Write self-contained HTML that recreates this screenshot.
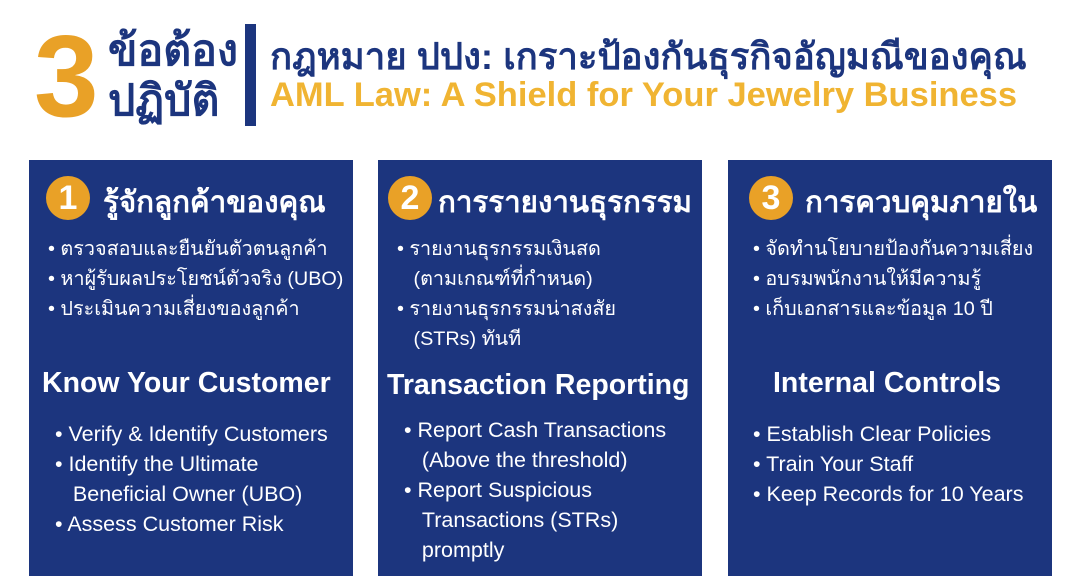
<!DOCTYPE html>
<html><head><meta charset="utf-8"><style>
body{margin:0;width:1080px;height:588px;background:#fff;position:relative;overflow:hidden;font-family:"Liberation Sans","DejaVu Sans","Noto Sans CJK SC",sans-serif}
.a{position:absolute;white-space:nowrap}
.p{position:absolute;top:160px;width:324px;height:416px;background:#1c357e}
.c{position:absolute;width:44px;height:44px;border-radius:50%;background:#e9a127;color:#fff;font-weight:bold;font-size:34px;text-align:center;line-height:44px}
.t{font-size:19.8px;color:#fff}
.h{font-size:29.5px;font-weight:bold;color:#fff}
.g{font-size:28.5px;font-weight:bold;color:#fff}
.e{font-size:21.5px;color:#fff}
</style></head><body>
<div class="a" style="left:34px;top:18px;font-size:116px;font-weight:bold;color:#e9a127;line-height:116px">3</div>
<div class="a" style="left:108px;top:26px;font-size:43px;font-weight:bold;color:#1c357e;line-height:50px">ข้อต้อง<br>ปฏิบัติ</div>
<div class="a" style="left:245px;top:24px;width:11px;height:102px;background:#1c357e"></div>
<div class="a" style="left:270px;top:28px;font-size:36.5px;font-weight:bold;color:#1c357e">กฎหมาย ปปง: เกราะป้องกันธุรกิจอัญมณีของคุณ</div>
<div class="a" style="left:270px;top:76px;font-size:34.5px;font-weight:bold;color:#f0b432">AML Law: A Shield for Your Jewelry Business</div>

<div class="p" style="left:29px"></div>
<div class="p" style="left:378px"></div>
<div class="p" style="left:728px"></div>

<div class="c" style="left:46px;top:176px">1</div>
<div class="a h" style="left:103px;top:178px">รู้จักลูกค้าของคุณ</div>
<div class="a t" style="left:48px;top:234px;line-height:30px">• ตรวจสอบและยืนยันตัวตนลูกค้า<br>• หาผู้รับผลประโยชน์ตัวจริง (UBO)<br>• ประเมินความเสี่ยงของลูกค้า</div>
<div class="a g" style="left:42px;top:367px">Know Your Customer</div>
<div class="a e" style="left:55px;top:419px;line-height:30px">• Verify &amp; Identify Customers<br>• Identify the Ultimate<br>&nbsp;&nbsp;&nbsp;Beneficial Owner (UBO)<br>• Assess Customer Risk</div>

<div class="c" style="left:388px;top:176px">2</div>
<div class="a h" style="left:438px;top:178px">การรายงานธุรกรรม</div>
<div class="a t" style="left:397px;top:234px;line-height:30px">• รายงานธุรกรรมเงินสด<br>&nbsp;&nbsp;&nbsp;(ตามเกณฑ์ที่กำหนด)<br>• รายงานธุรกรรมน่าสงสัย<br>&nbsp;&nbsp;&nbsp;(STRs) ทันที</div>
<div class="a g" style="left:387px;top:369px">Transaction Reporting</div>
<div class="a e" style="left:404px;top:415px;line-height:30px">• Report Cash Transactions<br>&nbsp;&nbsp;&nbsp;(Above the threshold)<br>• Report Suspicious<br>&nbsp;&nbsp;&nbsp;Transactions (STRs)<br>&nbsp;&nbsp;&nbsp;promptly</div>

<div class="c" style="left:749px;top:176px">3</div>
<div class="a h" style="left:805px;top:178px">การควบคุมภายใน</div>
<div class="a t" style="left:753px;top:234px;line-height:30px">• จัดทำนโยบายป้องกันความเสี่ยง<br>• อบรมพนักงานให้มีความรู้<br>• เก็บเอกสารและข้อมูล 10 ปี</div>
<div class="a g" style="left:773px;top:367px">Internal Controls</div>
<div class="a e" style="left:753px;top:419px;line-height:30px">• Establish Clear Policies<br>• Train Your Staff<br>• Keep Records for 10 Years</div>
</body></html>
